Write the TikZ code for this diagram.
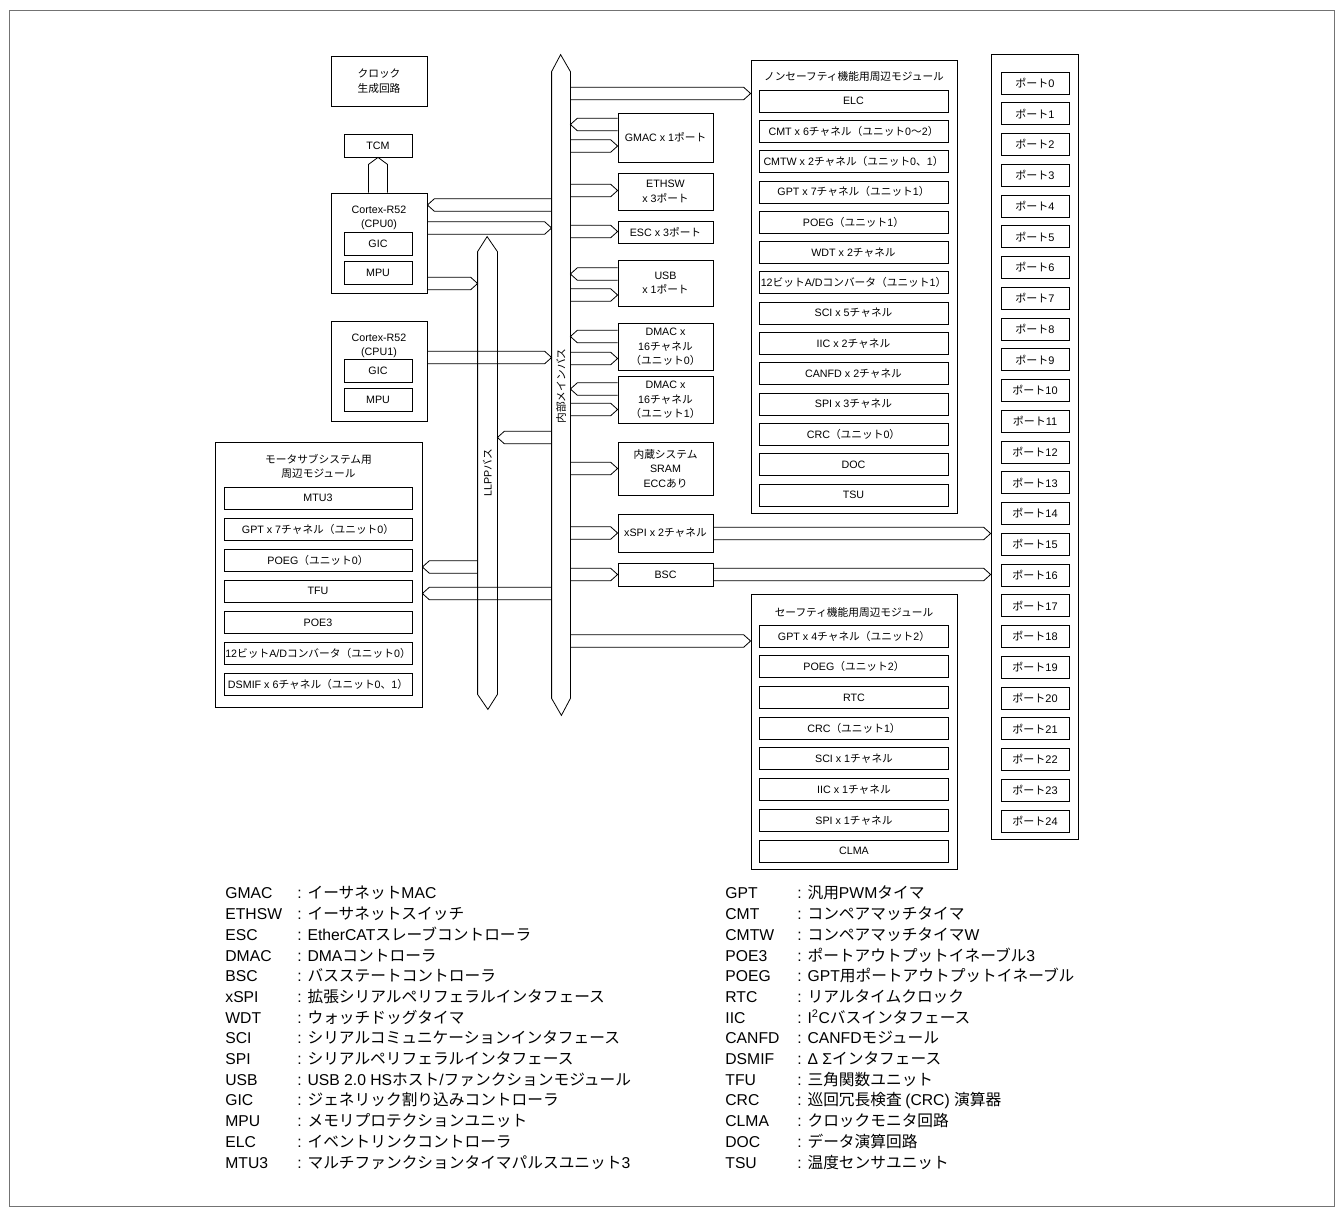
\documentclass[tikz,border=0pt]{standalone}
\usepackage{fontspec}
\setmainfont{Liberation Sans}
\newfontfamily\latinfont{Liberation Sans}
\newfontfamily\jpfont{Noto Sans CJK JP}
\usetikzlibrary{positioning}

% kana, kanji and full-width forms are set in the Japanese face
\XeTeXinterchartokenstate=1
\newXeTeXintercharclass\jpclass
\newcount\jpcode
\newcommand{\jprange}[2]{\jpcode=#1\relax
  \loop\XeTeXcharclass\jpcode=\jpclass\relax
  \advance\jpcode by 1\relax\ifnum\jpcode<#2\relax\repeat}
\jprange{"3000}{"3100}
\jprange{"4E00}{"A000}
\jprange{"FF00}{"FFF0}
\XeTeXinterchartoks 0 \jpclass = {\jpfont}
\XeTeXinterchartoks 4095 \jpclass = {\jpfont}
\XeTeXinterchartoks \jpclass 0 = {\latinfont}
\XeTeXinterchartoks 4095 0 = {\latinfont}

% band connector, tip on the west side of #2
\newcommand{\toR}[3]{%
  \coordinate (yy) at (0,#3);
  \path (#1.east |- yy) coordinate (s) (#2.west |- yy) coordinate (t);
  \draw ([yshift=6.3pt]s) -- ([xshift=-7pt,yshift=6.3pt]t) -- (t)
    -- ([xshift=-7pt,yshift=-6.3pt]t) -- ([yshift=-6.3pt]s);}
% band connector, tip on the east side of #2
\newcommand{\toL}[3]{%
  \coordinate (yy) at (0,#3);
  \path (#1.west |- yy) coordinate (s) (#2.east |- yy) coordinate (t);
  \draw ([yshift=6.3pt]s) -- ([xshift=7pt,yshift=6.3pt]t) -- (t)
    -- ([xshift=7pt,yshift=-6.3pt]t) -- ([yshift=-6.3pt]s);}

\begin{document}
\begin{tikzpicture}[x=1pt,y=-1pt,line width=0.8pt,
    blk/.style={draw, rectangle, inner sep=0pt, align=center, font=\fontsize{10.7}{14.5}\selectfont},
    txt/.style={inner sep=0pt, align=center, font=\fontsize{10.7}{14}\selectfont},
    group/.style={blk, minimum width=206},
    sub/.style={blk, minimum width=189, minimum height=22},
    mid/.style={blk, minimum width=95},
    small/.style={blk, minimum width=68, minimum height=23},
    cpu/.style={blk, minimum width=96, minimum height=100},
    port/.style={blk, minimum width=68, minimum height=22, font=\fontsize{11}{13}\selectfont},
    busbody/.style={inner sep=0pt, minimum width=18},
    note/.style={inner sep=0pt, anchor=north west, font=\fontsize{15.7}{20.7}\selectfont}]
  \useasboundingbox (0,0) rectangle (1343,1216);
  \draw[black!55, line width=0.6pt] (9,10) rectangle (1334,1206);

  % CPU side
  \node[blk, minimum width=96, minimum height=50] (clk) at (379,81) {クロック\\生成回路};
  \node[small] (tcm) at (378,145.5) {TCM};
  \node[cpu] (cpu0) at (379,243) {};
  \node[txt] (cpu0t) at (379,218) {Cortex-R52\\(CPU0)};
  \node[small] (gic0) at (378,243.5) {GIC};
  \node[small] (mpu0) at (378,272.5) {MPU};
  \node[cpu] (cpu1) at (379,371) {};
  \node[txt] (cpu1t) at (379,346) {Cortex-R52\\(CPU1)};
  \node[small] (gic1) at (378,370.5) {GIC};
  \node[small] (mpu1) at (378,399.5) {MPU};

  \path (tcm.south) coordinate (t) (cpu0.north -| tcm.south) coordinate (s);
  \draw ([xshift=-9.5pt]s) -- ([xshift=-9.5pt,yshift=-7pt]t) -- (t)
    -- ([xshift=9.5pt,yshift=-7pt]t) -- ([xshift=9.5pt]s);

  % buses
  \node[busbody, minimum height=626] (mainbus) at (561,385) {};
  \draw (mainbus.north west) -- ++(9,-17) -- (mainbus.north east) -- (mainbus.south east)
    -- ++(-9,17) -- (mainbus.south west) -- cycle;
  \node[txt, rotate=90] (mainbust) at (561,386) {内部メインバス};
  \node[busbody, minimum width=19, minimum height=442] (llpp) at (487.5,473) {};
  \draw (llpp.north west) -- ++(9.5,-15) -- (llpp.north east) -- (llpp.south east)
    -- ++(-9.5,15) -- (llpp.south west) -- cycle;
  \node[txt, rotate=90] (llppt) at (487.5,473) {LLPPバス};

  % modules on the main bus
  \node[mid, minimum height=49] (gmac) at (665.5,137.5) {GMAC x 1ポート};
  \node[mid, minimum height=37] (ethsw) at (665.5,191.5) {ETHSW\\x 3ポート};
  \node[mid, minimum height=22] (esc) at (665.5,232) {ESC x 3ポート};
  \node[mid, minimum height=46] (usb) at (665.5,283) {USB\\x 1ポート};
  \node[mid, minimum height=47] (dmac0) at (665.5,347) {DMAC x\\16チャネル\\（ユニット0）};
  \node[mid, minimum height=47] (dmac1) at (665.5,400) {DMAC x\\16チャネル\\（ユニット1）};
  \node[mid, minimum height=53] (sram) at (665.5,468.5) {内蔵システム\\SRAM\\ECCあり};
  \node[mid, minimum height=38] (xspi) at (665.5,533) {xSPI x 2チャネル};
  \node[mid, minimum height=23] (bsc) at (665.5,574.5) {BSC};

  \node[group, minimum height=453] (nsafe) at (854,286.5) {};
  \node[txt] (nsafet) at (854,76) {ノンセーフティ機能用周辺モジュール};
  \foreach \t [count=\i from 0] in {ELC,%
      CMT x 6チャネル（ユニット0～2）,%
      CMTW x 2チャネル（ユニット0、1）,%
      GPT x 7チャネル（ユニット1）,%
      POEG（ユニット1）,%
      WDT x 2チャネル,%
      12ビットA/Dコンバータ（ユニット1）,%
      SCI x 5チャネル,%
      IIC x 2チャネル,%
      CANFD x 2チャネル,%
      SPI x 3チャネル,%
      CRC（ユニット0）,%
      DOC,%
      TSU}
    \node[sub] (ns\i) at (853.5,101+30.3*\i) {\t};

  \node[group, minimum height=275] (safe) at (854,731.5) {};
  \node[txt] (safet) at (854,612) {セーフティ機能用周辺モジュール};
  \foreach \t [count=\i from 0] in {GPT x 4チャネル（ユニット2）,%
      POEG（ユニット2）,%
      RTC,%
      CRC（ユニット1）,%
      SCI x 1チャネル,%
      IIC x 1チャネル,%
      SPI x 1チャネル,%
      CLMA}
    \node[sub] (sf\i) at (854,636+30.7*\i) {\t};

  \node[blk, minimum width=207, minimum height=265] (motor) at (318.5,574.5) {};
  \node[txt] (motort) at (318.5,466.5) {モータサブシステム用\\周辺モジュール};
  \foreach \t [count=\i from 0] in {MTU3,%
      GPT x 7チャネル（ユニット0）,%
      POEG（ユニット0）,%
      TFU,%
      POE3,%
      12ビットA/Dコンバータ（ユニット0）,%
      DSMIF x 6チャネル（ユニット0、1）}
    \node[sub, minimum width=188] (mt\i) at (318,498+31.1*\i) {\t};

  \node[blk, minimum width=87, minimum height=785] (ports) at (1034.5,446.5) {};
  \foreach \i in {0,...,24}
    \node[port] (p\i) at (1035,83+30.75*\i) {ポート\i};

  % bus connectors
  \toR{mainbus}{nsafe}{93.5}
  \toL{gmac}{mainbus}{124.5}
  \toR{mainbus}{gmac}{146}
  \toR{mainbus}{ethsw}{190.5}
  \toR{mainbus}{esc}{231.5}
  \toL{usb}{mainbus}{274}
  \toR{mainbus}{usb}{295}
  \toL{dmac0}{mainbus}{336.5}
  \toR{mainbus}{dmac0}{358.5}
  \toL{dmac1}{mainbus}{389}
  \toR{mainbus}{dmac1}{409.5}
  \toR{mainbus}{sram}{468.5}
  \toR{mainbus}{xspi}{533}
  \toR{mainbus}{bsc}{574.5}
  \toR{mainbus}{safe}{641}
  \toR{xspi}{ports}{533.5}
  \toR{bsc}{ports}{574.5}
  \toL{mainbus}{cpu0}{205}
  \toR{cpu0}{mainbus}{228}
  \toR{cpu0}{llpp}{283.5}
  \toR{cpu1}{mainbus}{357.5}
  \toL{mainbus}{llpp}{437.5}
  \toL{llpp}{motor}{567}
  \toL{mainbus}{motor}{593.5}

  % abbreviations
  \node[note] (legl) at (225,884) {%
    \begin{tabular}{@{}p{72pt}@{}l@{}}
      GMAC & : イーサネットMAC\\
      ETHSW & : イーサネットスイッチ\\
      ESC & : EtherCATスレーブコントローラ\\
      DMAC & : DMAコントローラ\\
      BSC & : バスステートコントローラ\\
      xSPI & : 拡張シリアルペリフェラルインタフェース\\
      WDT & : ウォッチドッグタイマ\\
      SCI & : シリアルコミュニケーションインタフェース\\
      SPI & : シリアルペリフェラルインタフェース\\
      USB & : USB 2.0 HSホスト/ファンクションモジュール\\
      GIC & : ジェネリック割り込みコントローラ\\
      MPU & : メモリプロテクションユニット\\
      ELC & : イベントリンクコントローラ\\
      MTU3 & : マルチファンクションタイマパルスユニット3\\
    \end{tabular}};
  \node[note] (legr) at (725,884) {%
    \begin{tabular}{@{}p{72pt}@{}l@{}}
      GPT & : 汎用PWMタイマ\\
      CMT & : コンペアマッチタイマ\\
      CMTW & : コンペアマッチタイマW\\
      POE3 & : ポートアウトプットイネーブル3\\
      POEG & : GPT用ポートアウトプットイネーブル\\
      RTC & : リアルタイムクロック\\
      IIC & : I\textsuperscript{2}Cバスインタフェース\\
      CANFD & : CANFDモジュール\\
      DSMIF & : Δ Σインタフェース\\
      TFU & : 三角関数ユニット\\
      CRC & : 巡回冗長検査 (CRC) 演算器\\
      CLMA & : クロックモニタ回路\\
      DOC & : データ演算回路\\
      TSU & : 温度センサユニット\\
    \end{tabular}};
\end{tikzpicture}
\end{document}
